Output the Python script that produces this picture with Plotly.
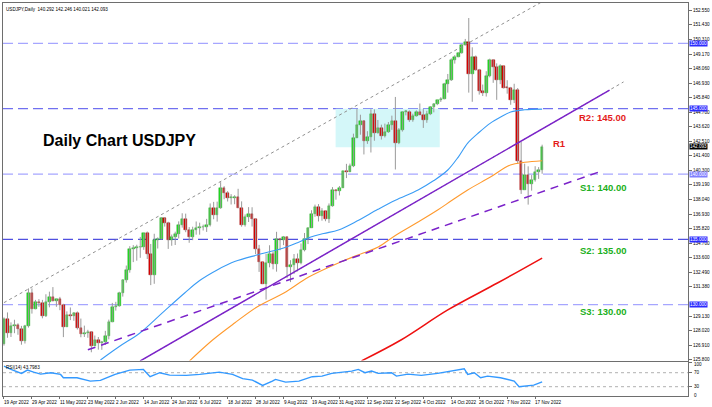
import plotly.graph_objects as go

# ---------------- data ----------------
tick_labels = ["19 Apr 2022", "29 Apr 2022", "11 May 2022", "23 May 2022", "2 Jun 2022",
               "14 Jun 2022", "24 Jun 2022", "6 Jul 2022", "18 Jul 2022", "28 Jul 2022",
               "9 Aug 2022", "19 Aug 2022", "31 Aug 2022", "12 Sep 2022", "22 Sep 2022",
               "4 Oct 2022", "14 Oct 2022", "26 Oct 2022", "7 Nov 2022", "17 Nov 2022"]
tick_bar = [0, 8, 16, 24, 32, 40, 48, 56, 64, 72, 80, 88, 96, 104, 112, 120, 128, 136, 144, 152]

opens = [126.97, 128.92, 127.86, 128.37, 128.48, 128.11, 127.21, 128.39, 130.86, 129.70,
         130.17, 130.14, 129.10, 130.20, 130.56, 130.29, 130.44, 129.96, 128.33, 129.23,
         129.15, 129.39, 128.22, 127.78, 127.87, 127.91, 126.86, 127.33, 127.10, 127.11,
         127.63, 128.70, 129.85, 129.87, 130.86, 131.90, 132.63, 134.25, 134.37, 134.38,
         134.43, 135.47, 133.89, 132.24, 134.98, 135.05, 136.63, 136.23, 134.94, 135.21,
         135.45, 136.13, 136.59, 135.72, 135.22, 135.70, 135.87, 135.92, 135.98, 136.11,
         137.43, 136.85, 137.43, 138.93, 138.55, 138.15, 138.20, 138.21, 137.40, 136.09,
         136.68, 136.92, 136.56, 134.27, 133.27, 131.61, 133.17, 133.87, 133.08, 135.01,
         134.96, 135.15, 132.86, 133.01, 133.47, 133.21, 134.22, 135.04, 135.89, 136.91,
         137.48, 136.77, 137.15, 136.56, 137.58, 138.75, 138.72, 138.95, 140.21, 140.19,
         140.58, 142.77, 143.79, 144.06, 142.56, 142.84, 144.57, 143.16, 143.51, 142.93,
         143.18, 143.75, 144.08, 142.37, 143.34, 144.73, 144.76, 144.17, 144.45, 144.74,
         144.54, 144.15, 144.59, 145.14, 145.33, 145.64, 145.72, 146.86, 147.20, 148.70,
         148.98, 149.24, 149.91, 150.14, 147.66, 148.99, 147.96, 146.37, 146.23, 147.47,
         148.70, 148.22, 147.20, 148.25, 146.62, 146.61, 145.64, 146.41, 141.00, 138.81,
         139.95, 139.24, 139.51, 140.14, 140.292]
highs = [129.03, 129.41, 128.65, 128.85, 128.58, 128.38, 128.46, 131.25, 131.25, 130.37,
         130.43, 130.37, 130.80, 131.00, 131.35, 130.45, 130.60, 130.07, 129.49, 129.79,
         129.42, 129.48, 128.94, 128.40, 128.08, 127.96, 127.64, 127.53, 127.23, 128.00,
         128.86, 130.14, 130.22, 130.99, 131.94, 133.00, 134.48, 134.56, 134.59, 135.19,
         135.47, 135.60, 134.65, 135.43, 135.15, 136.71, 136.71, 136.35, 135.37, 135.59,
         136.38, 137.00, 136.97, 135.94, 135.97, 136.37, 136.28, 136.13, 136.57, 137.75,
         137.87, 137.89, 139.38, 139.07, 138.69, 138.46, 138.38, 138.87, 137.91, 136.91,
         137.47, 137.46, 136.59, 134.58, 133.27, 133.90, 134.55, 134.07, 135.58, 135.12,
         135.26, 135.22, 133.41, 133.88, 133.92, 134.69, 135.49, 135.91, 137.23, 137.66,
         137.70, 137.39, 137.16, 137.75, 139.00, 138.82, 139.08, 140.22, 140.78, 140.80,
         143.09, 144.99, 144.54, 144.11, 143.28, 144.96, 144.95, 144.14, 143.78, 143.86,
         143.98, 144.47, 145.90, 143.52, 144.80, 144.90, 144.87, 144.62, 144.87, 145.40,
         144.97, 144.84, 145.20, 145.42, 145.68, 145.88, 146.98, 147.66, 148.85, 149.10,
         149.30, 149.94, 150.34, 151.94, 149.70, 149.07, 148.05, 146.85, 147.87, 148.83,
         148.77, 148.47, 148.40, 148.27, 147.18, 146.67, 146.91, 146.58, 142.48, 140.79,
         140.59, 139.92, 140.60, 140.53, 142.246]
lows = [126.87, 127.47, 127.53, 127.82, 127.70, 126.94, 127.03, 128.25, 129.32, 129.65,
        129.84, 128.96, 129.06, 129.80, 130.26, 129.84, 129.58, 127.52, 128.31, 128.82,
        128.77, 128.10, 127.51, 127.53, 127.47, 126.36, 126.86, 126.56, 126.55, 126.92,
        127.35, 128.66, 129.55, 129.85, 130.62, 131.69, 132.45, 133.26, 133.37, 133.59,
        134.20, 133.50, 131.50, 131.60, 134.30, 134.98, 135.98, 134.27, 134.51, 134.57,
        135.07, 135.90, 135.55, 134.74, 134.94, 135.36, 135.36, 135.68, 135.57, 135.99,
        136.54, 136.36, 137.34, 138.07, 137.90, 137.67, 137.69, 137.40, 135.97, 135.98,
        136.33, 135.98, 133.88, 132.51, 131.60, 130.39, 132.86, 132.71, 132.53, 134.17,
        134.56, 132.04, 131.73, 132.36, 132.55, 133.09, 134.08, 134.64, 135.89, 136.73,
        136.37, 136.43, 136.39, 136.26, 137.50, 138.04, 138.36, 138.95, 139.69, 140.18,
        140.53, 142.76, 143.01, 141.50, 142.31, 141.65, 142.55, 143.10, 142.64, 142.80,
        143.15, 143.38, 140.35, 142.29, 143.25, 144.49, 143.99, 144.00, 144.39, 144.53,
        143.53, 143.92, 144.51, 144.72, 145.27, 145.52, 145.72, 146.23, 147.12, 148.45,
        148.94, 149.21, 149.84, 146.23, 145.53, 147.91, 146.08, 145.97, 145.93, 147.40,
        146.98, 145.68, 146.88, 146.55, 146.15, 145.30, 145.43, 140.79, 138.48, 138.79,
        137.66, 138.73, 139.42, 139.63, 140.021]
closes = [128.92, 127.86, 128.37, 128.48, 128.11, 127.21, 128.39, 130.86, 129.70, 130.17,
          130.14, 129.10, 130.20, 130.56, 130.29, 130.44, 129.96, 128.33, 129.23, 129.15,
          129.39, 128.22, 127.78, 127.87, 127.91, 126.86, 127.33, 127.10, 127.11, 127.63,
          128.70, 129.85, 129.87, 130.86, 131.90, 132.63, 134.25, 134.37, 134.38, 134.43,
          135.47, 133.89, 132.24, 134.98, 135.05, 136.63, 136.23, 134.94, 135.21, 135.45,
          136.13, 136.59, 135.72, 135.22, 135.70, 135.87, 135.92, 135.98, 136.11, 137.43,
          136.85, 137.43, 138.93, 138.55, 138.15, 138.20, 138.21, 137.40, 136.09, 136.68,
          136.92, 136.56, 134.27, 133.27, 131.61, 133.17, 133.87, 133.08, 135.01, 134.96,
          135.15, 132.86, 133.01, 133.47, 133.21, 134.22, 135.04, 135.89, 136.91, 137.48,
          136.77, 137.15, 136.56, 137.58, 138.75, 138.72, 138.95, 140.21, 140.19, 140.58,
          142.77, 143.79, 144.06, 142.56, 142.84, 144.57, 143.16, 143.51, 142.93, 143.18,
          143.75, 144.08, 142.37, 143.34, 144.73, 144.76, 144.17, 144.45, 144.74, 144.54,
          144.15, 144.59, 145.14, 145.33, 145.64, 145.72, 146.86, 147.20, 148.70, 148.98,
          149.24, 149.91, 150.14, 147.66, 148.99, 147.96, 146.37, 146.23, 147.47, 148.70,
          148.22, 147.20, 148.25, 146.62, 146.61, 145.64, 146.41, 141.00, 138.81, 139.95,
          139.24, 139.51, 140.14, 140.29, 142.093]

# moving averages (bar index, price)
ma_blue_x = [27.6, 33, 38.9, 45, 51.7, 56, 61, 66, 72.4, 76, 80, 84, 87.8, 91.5, 95.7, 101, 107,
             112, 118.5, 123, 127, 130, 132.7, 136, 139.2, 142, 145, 149, 154]
ma_blue_y = [125.77, 126.8, 127.84, 129.3, 130.9, 131.85, 132.66, 133.3, 133.8, 134.05, 134.34,
             134.75, 135.18, 135.45, 135.72, 136.4, 137.3, 138.0, 138.78, 139.5, 140.31, 141.3,
             142.37, 143.2, 143.9, 144.35, 144.75, 144.92, 144.97]
ma_orange_x = [53.1, 59.7, 66, 72.4, 80.1, 87.2, 95.7, 102.8, 107.1, 112, 118.5, 124.1, 128,
               132.7, 139.2, 144.9, 149, 154]
ma_orange_y = [125.7, 127.3, 128.6, 129.83, 130.9, 132.12, 133.2, 133.96, 134.42, 135.3, 136.33,
               137.25, 137.95, 138.78, 139.77, 140.69, 140.9, 141.02]
ma_red_x = [102.3, 113.6, 127, 141.2, 154]
ma_red_y = [125.7, 127.3, 129.6, 131.66, 133.57]

# RSI(14) (bar index, value)
rsi_x = [0, 2, 5, 6.7, 8.5, 10.5, 13.4, 16.2, 17, 20.9, 24.7, 27.6, 29.5, 31.8, 36, 39.9, 41.8,
         44.6, 47.4, 52.2, 56, 61.6, 65.4, 68.3, 71.1, 74, 76.8, 77.7, 80.6, 84.4, 88.2, 91, 93.8,
         99.5, 101.4, 103.3, 105.2, 107.1, 110.9, 112.3, 115.6, 119.4, 124.1, 127, 129.8, 131.7,
         132.7, 134.6, 136.4, 138.4, 142.1, 145, 146, 147.4, 149.7, 151.6, 154]
rsi_y = [88.9, 79.4, 68, 77.4, 71.7, 66, 70, 65.1, 55.7, 55.7, 46, 48, 55.7, 65.1, 77.4, 79.4,
         58.6, 70, 63.1, 62.3, 65.1, 71.7, 65.1, 52.9, 48.9, 33.7, 46, 50.9, 43.1, 46, 58.6, 60.3,
         68, 74.6, 79.4, 70, 74.6, 68, 70, 60.3, 66, 62.3, 68, 72.9, 79.4, 81.4, 65.1, 70, 55.7,
         60.3, 55.7, 48.9, 46, 30, 33.7, 34.6, 43.8]
rsi_levels = [100, 70, 30, 0]
rsi_level_pos = [92.5, 70, 30, 4.5]

# drawn objects (bar index, price)
trend_solid_x = [39, 173.3]
trend_solid_y = [125.7, 146.43]
trend_ext_x = [37, 177.3]
trend_ext_y = [125.39, 147.05]
trend_dash_x = [24, 170.5]
trend_dash_y = [126.55, 140.18]
channel_x = [0, 166.8]
channel_y = [130.16, 155.1]
box_x = [94.9, 124.7]
box_y = [142.05, 145.0]

levels = [150.0, 145.0, 140.0, 135.0, 130.0]
level_colors = ["#a6a6ff", "#7070f0", "#a6a6ff", "#5050e0", "#a6a6ff"]
level_box_colors = ["#2b2bff", "#2b2bff", "#7f7fff", "#2b2bff", "#2b2bff"]
last_price = 142.093

price_ticks = [152.55, 151.43, 150.31, 149.17, 148.06, 146.93, 145.84, 144.70, 143.62, 142.51,
               141.40, 140.30, 139.19, 138.04, 136.93, 135.82, 134.70, 133.60, 132.49, 131.38,
               129.13, 128.02, 126.91, 125.80]

chart_title = "Daily Chart USDJPY"
notes = [("R2: 145.00", 163.9, 144.35, "#e41b1b"),
         ("R1", 156.5, 142.3, "#e41b1b"),
         ("S1: 140.00", 164.4, 139.0, "#20b020"),
         ("S2: 135.00", 164.4, 134.15, "#20b020"),
         ("S3: 130.00", 164.4, 129.5, "#20b020")]

# ---------------- figure ----------------
n = len(closes)
idx = list(range(n))
tiny = dict(family="Liberation Sans", size=4.6, color="#000000")

fig = go.Figure()

# wicks
wx, wy = [], []
for i in idx:
    wx += [i, i, None]
    wy += [lows[i], highs[i], None]
fig.add_trace(go.Scatter(x=wx, y=wy, mode="lines", line=dict(color="#9a9a9a", width=1),
                         hoverinfo="skip", showlegend=False))
# bodies
body_base = [min(o, c) for o, c in zip(opens, closes)]
body_h = [max(abs(c - o), 0.06) for o, c in zip(opens, closes)]
body_col = ["#22dd22" if c >= o else "#dd0000" for o, c in zip(opens, closes)]
body_line = ["#169916" if c >= o else "#8a0000" for o, c in zip(opens, closes)]
fig.add_trace(go.Bar(x=idx, y=body_h, base=body_base, width=0.74,
                     marker=dict(color=body_col, line=dict(color=body_line, width=0.4)),
                     showlegend=False, hoverinfo="skip"))

# moving averages
fig.add_trace(go.Scatter(x=ma_blue_x, y=ma_blue_y, mode="lines", line=dict(color="#3a9cf5", width=1.1, shape="spline"), showlegend=False))
fig.add_trace(go.Scatter(x=ma_orange_x, y=ma_orange_y, mode="lines", line=dict(color="#ff9a2e", width=1.1, shape="spline"), showlegend=False))
fig.add_trace(go.Scatter(x=ma_red_x, y=ma_red_y, mode="lines", line=dict(color="#ee1111", width=1.5, shape="spline"), showlegend=False))

# trend lines
fig.add_trace(go.Scatter(x=channel_x, y=channel_y, mode="lines", line=dict(color="#909090", width=1, dash="dot"), showlegend=False))
fig.add_trace(go.Scatter(x=trend_ext_x, y=trend_ext_y, mode="lines", line=dict(color="#909090", width=1, dash="dot"), showlegend=False))
fig.add_trace(go.Scatter(x=trend_solid_x, y=trend_solid_y, mode="lines", line=dict(color="#7b22c9", width=1.5), showlegend=False))
fig.add_trace(go.Scatter(x=trend_dash_x, y=trend_dash_y, mode="lines", line=dict(color="#7b22c9", width=1.5, dash="8px,6px"), showlegend=False))

# RSI
fig.add_trace(go.Scatter(x=rsi_x, y=rsi_y, mode="lines", line=dict(color="#3399ff", width=1.4), xaxis="x2", yaxis="y2", showlegend=False))

shapes = []
shapes.append(dict(type="rect", xref="x", yref="y", x0=box_x[0], x1=box_x[1], y0=box_y[0], y1=box_y[1],
                   fillcolor="#d4f7f9", line=dict(width=0), layer="below"))
for lv, col in zip(levels, level_colors):
    shapes.append(dict(type="line", xref="paper", yref="y", x0=0, x1=1, y0=lv, y1=lv,
                       line=dict(color=col, width=1.2, dash="10px,5px"), layer="below"))
for lv in [70, 30]:
    shapes.append(dict(type="line", xref="paper", yref="y2", x0=0, x1=1, y0=lv, y1=lv,
                       line=dict(color="#b0b0b0", width=1, dash="dot"), layer="below"))

annotations = []
for lv, col in zip(levels, level_box_colors):
    annotations.append(dict(xref="paper", yref="y", x=1, y=lv, xanchor="left", yanchor="middle",
                            text="%.3f" % lv, showarrow=False, bgcolor=col, borderpad=0,
                            font=dict(family="Liberation Sans", size=4.6, color="#ffffff"), xshift=1))
annotations.append(dict(xref="paper", yref="y", x=1, y=last_price, xanchor="left", yanchor="middle",
                        text="%.3f" % last_price, showarrow=False, bgcolor="#000000", borderpad=0,
                        font=dict(family="Liberation Sans", size=4.6, color="#ffffff"), xshift=1))
for lab, tb in zip(tick_labels, tick_bar):
    annotations.append(dict(xref="x2", yref="paper", x=tb, y=0, xanchor="left", yanchor="top",
                            text=lab, showarrow=False, font=tiny, yshift=-2, xshift=-2))
for lv, pos in zip(rsi_levels, rsi_level_pos):
    annotations.append(dict(xref="paper", yref="y2", x=1, y=pos, xanchor="left", yanchor="middle",
                            text=str(lv), showarrow=False, font=tiny, xshift=4))
annotations.append(dict(xref="paper", yref="paper", x=0, y=1, xanchor="left", yanchor="top",
                        text="USDJPY,Daily  140.292 142.246 140.021 142.093", showarrow=False,
                        font=tiny, xshift=1, yshift=-2))
annotations.append(dict(xref="paper", yref="y2", x=0, y=100.6, xanchor="left", yanchor="top",
                        text="RSI(14) 43.7983", showarrow=False, font=tiny, xshift=1, yshift=-1))
annotations.append(dict(xref="x", yref="y", x=10.5, y=142.55, xanchor="left", yanchor="middle",
                        text="<b>%s</b>" % chart_title, showarrow=False,
                        font=dict(family="Liberation Sans", size=16, color="#000000")))
for txt, nx, ny, col in notes:
    annotations.append(dict(xref="x", yref="y", x=nx, y=ny, xanchor="left", yanchor="middle",
                            text="<b>%s</b>" % txt, showarrow=False,
                            font=dict(family="Liberation Sans", size=9.5, color=col)))

fig.update_layout(
    width=712, height=407, margin=dict(l=2, r=20, t=3, b=11),
    paper_bgcolor="#ffffff", plot_bgcolor="#ffffff", barmode="overlay", bargap=0,
    showlegend=False, shapes=shapes, annotations=annotations,
    xaxis=dict(range=[-0.28, 195.74], showgrid=False, zeroline=False, showticklabels=False,
               showline=True, mirror=True, linecolor="#6e6e6e", linewidth=1, anchor="y"),
    xaxis2=dict(range=[-0.28, 195.74], showgrid=False, zeroline=False, showticklabels=False,
                tickvals=tick_bar, ticks="outside", ticklen=2, tickcolor="#6e6e6e",
                showline=True, mirror=True, linecolor="#6e6e6e", linewidth=1, anchor="y2"),
    yaxis=dict(domain=[0.0903, 1], range=[125.73, 153.09], side="right", showgrid=False,
               zeroline=False, tickvals=price_ticks, ticktext=["%.3f" % t for t in price_ticks],
               ticks="outside", ticklen=3, tickcolor="#6e6e6e", tickfont=tiny,
               showline=True, mirror=True, linecolor="#6e6e6e", linewidth=1, anchor="x"),
    yaxis2=dict(domain=[0, 0.0865], range=[3.4, 100.6], side="right", showgrid=False,
                zeroline=False, showticklabels=False, tickvals=[100, 70, 30],
                ticks="outside", ticklen=3, tickcolor="#6e6e6e",
                showline=True, mirror=True, linecolor="#6e6e6e", linewidth=1, anchor="x2"),
)

fig.write_html("out.html")
